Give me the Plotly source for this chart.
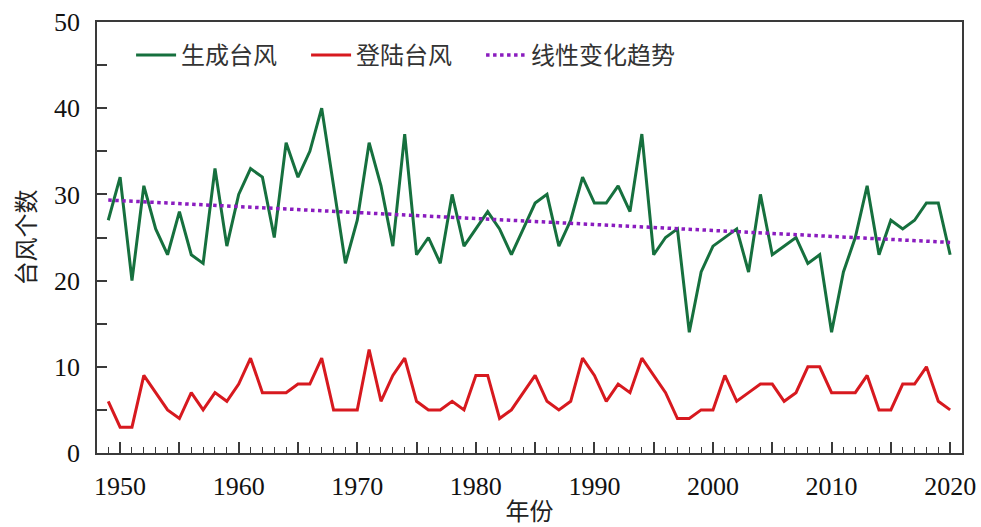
import numpy as np
import plotly.graph_objects as go

years = list(range(1949, 2021))
formed = [27, 32, 20, 31, 26, 23, 28, 23, 22, 33,
          24, 30, 33, 32, 25, 36, 32, 35, 40, 31,
          22, 27, 36, 31, 24, 37, 23, 25, 22, 30,
          24, 26, 28, 26, 23, 26, 29, 30, 24, 27,
          32, 29, 29, 31, 28, 37, 23, 25, 26, 14,
          21, 24, 25, 26, 21, 30, 23, 24, 25, 22,
          23, 14, 21, 25, 31, 23, 27, 26, 27, 29,
          29, 23]
landed = [6, 3, 3, 9, 7, 5, 4, 7, 5, 7,
          6, 8, 11, 7, 7, 7, 8, 8, 11, 5,
          5, 5, 12, 6, 9, 11, 6, 5, 5, 6,
          5, 9, 9, 4, 5, 7, 9, 6, 5, 6,
          11, 9, 6, 8, 7, 11, 9, 7, 4, 4,
          5, 5, 9, 6, 7, 8, 8, 6, 7, 10,
          10, 7, 7, 7, 9, 5, 5, 8, 8, 10,
          6, 5]
names = ["生成台风", "登陆台风", "线性变化趋势"]
x_tickvals = list(range(1950, 2021, 5))
x_ticktext = [str(v) if v % 10 == 0 else "" for v in x_tickvals]
y_tickvals = list(range(0, 51, 5))
y_ticktext = [str(v) if v % 10 == 0 else "" for v in y_tickvals]

coef = np.polyfit(years, formed, 1)
trend = np.polyval(coef, years)

green = "#16703e"
red = "#d7191f"
purple = "#8a1cbf"
axis_col = "#3a3a3a"
cjk = "Noto Sans CJK SC"
serif = "Liberation Serif"

fig = go.Figure()
fig.add_trace(go.Scatter(x=years, y=formed, mode="lines", name=names[0], legend="legend",
                         line=dict(color=green, width=3)))
fig.add_trace(go.Scatter(x=years, y=landed, mode="lines", name=names[1], legend="legend2",
                         line=dict(color=red, width=3)))
fig.add_trace(go.Scatter(x=years, y=trend, mode="lines", name=names[2], legend="legend3",
                         line=dict(color=purple, width=3.5, dash="dot")))

def leg(xpos):
    return dict(orientation="h", x=xpos, y=0.975, xanchor="left", yanchor="top",
                font=dict(family=cjk, size=24, color="#333333"),
                bgcolor="rgba(255,255,255,0)", itemwidth=40)

fig.update_layout(
    width=981, height=527,
    margin=dict(l=97, r=19, t=22, b=74),
    paper_bgcolor="white", plot_bgcolor="white",
    showlegend=True,
    legend=leg(0.0394), legend2=leg(0.2417), legend3=leg(0.444),
    xaxis=dict(range=[1948.05, 2021.0], tickvals=x_tickvals, ticktext=x_ticktext,
               ticks="inside", ticklen=11, tickwidth=1.5, tickcolor=axis_col,
               minor=dict(dtick=1, ticks="inside", ticklen=6, tickwidth=1.2, tickcolor=axis_col),
               showline=True, linecolor=axis_col, linewidth=1.8, mirror=True,
               showgrid=False, zeroline=False, ticklabelstandoff=9, automargin=False,
               tickfont=dict(family=serif, size=26, color="#111111"),
               title=dict(text="年份", font=dict(family=cjk, size=24, color="#222222"), standoff=10)),
    yaxis=dict(range=[0, 50], tickvals=y_tickvals, ticktext=y_ticktext,
               ticks="inside", ticklen=10, tickwidth=1.5, tickcolor=axis_col,
               showline=True, linecolor=axis_col, linewidth=1.8, mirror=True,
               showgrid=False, zeroline=False, ticklabelstandoff=10, automargin=False,
               tickfont=dict(family=serif, size=26, color="#111111"),
               title=dict(text="台风个数", font=dict(family=cjk, size=24, color="#222222"), standoff=12)),
)

fig.write_html("out.html", config={"displayModeBar": False},
               post_script="document.body.style.margin='0';")
